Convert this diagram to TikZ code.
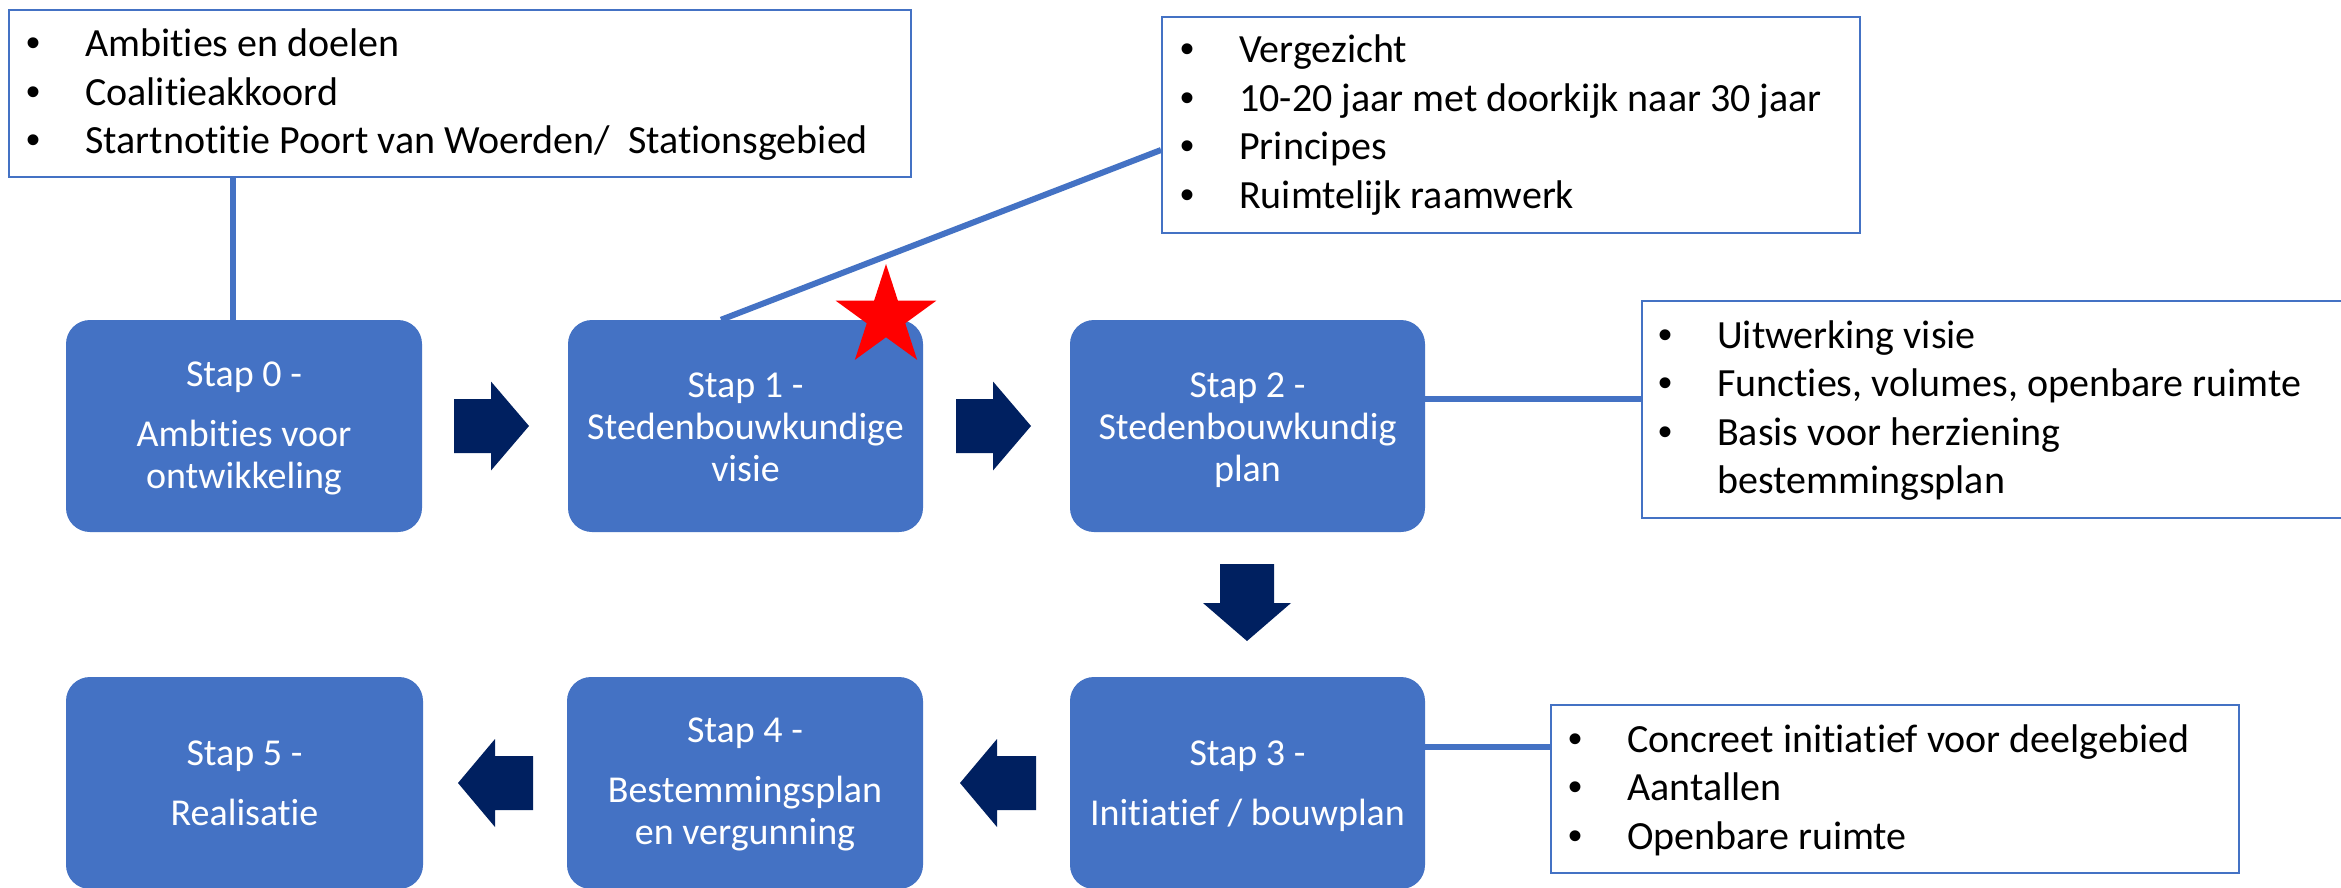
\documentclass[tikz,border=0pt]{standalone}
\usepackage{fontspec}
\setmainfont{Carlito}[Ligatures=NoCommon]
\newfontfamily\bulletfont{Liberation Sans}
\usetikzlibrary{shapes.geometric}
\definecolor{boxblue}{HTML}{4472C4}
\definecolor{navy}{HTML}{002060}
\newcommand\bl[1]{\makebox[62pt][l]{\hspace*{3pt}{\bulletfont •}}#1}
\tikzset{
  stepbox/.style={rectangle, rounded corners=24pt, fill=boxblue, draw=none, inner sep=0pt},
  infobox/.style={rectangle, draw=boxblue, line width=2pt, fill=white, inner sep=0pt},
  infotext/.style={anchor=base west, inner sep=0pt, text=black, font=\fontsize{40}{48.5}\selectfont},
  steptext/.style={anchor=base, inner sep=0pt, text=white, font=\fontsize{38}{42}\selectfont},
  conn/.style={draw=boxblue, line width=6pt},
  blockarrow/.style={fill=navy}
}
\begin{document}
\begin{tikzpicture}[x=1pt,y=-1pt]
\useasboundingbox (0,0) rectangle (2341,888);
\fill[white] (0,0) rectangle (2341,888);
\clip (0,0) rectangle (2341,888);

% coordinates for connector positions
\coordinate (cA) at (233,0);
\coordinate (c1) at (721,0);
\coordinate (c1b) at (0,150);
\coordinate (y2) at (0,399);
\coordinate (y3) at (0,747);

% info boxes
\node[infobox, minimum width=902pt, minimum height=167pt] (A) at (460,93.5) {};
\node[infobox, minimum width=698pt, minimum height=216pt] (B) at (1511,125) {};
\node[infobox, minimum width=708pt, minimum height=217pt] (C) at (1996,409.5) {};
\node[infobox, minimum width=688pt, minimum height=168pt] (D) at (1895,789) {};

% step boxes
\node[stepbox, minimum width=356pt, minimum height=212pt] (s0) at (244,426) {};
\node[stepbox, minimum width=355pt, minimum height=212pt] (s1) at (745.5,426) {};
\node[stepbox, minimum width=355pt, minimum height=212pt] (s2) at (1247.5,426) {};
\node[stepbox, minimum width=355pt, minimum height=212pt] (s3) at (1247.5,783) {};
\node[stepbox, minimum width=356pt, minimum height=212pt] (s4) at (745,783) {};
\node[stepbox, minimum width=357pt, minimum height=212pt] (s5) at (244.5,783) {};

% connectors
\draw[conn] (A.south -| cA) -- (s0.north -| cA);
\draw[conn] (s1.north -| c1) -- (B.west |- c1b);
\draw[conn] (s2.east |- y2) -- (C.west |- y2);
\draw[conn] (s3.east |- y3) -- (D.west |- y3);

% info texts
\node[infotext] (At) at (23,57) {\parbox[t]{880pt}{\bl{Ambities en doelen}\\\bl{Coalitieakkoord}\\\bl{Startnotitie Poort van Woerden/\ \ Stationsgebied}}};
\node[infotext] (Bt) at (1177,63) {\parbox[t]{680pt}{\bl{Vergezicht}\\\bl{10-20 jaar met doorkijk naar 30 jaar}\\\bl{Principes}\\\bl{Ruimtelijk raamwerk}}};
\node[infotext] (Ct) at (1655,348) {\parbox[t]{680pt}{\bl{Uitwerking visie}\\\bl{Functies, volumes, openbare ruimte}\\\bl{Basis voor herziening}\\\hspace*{62pt}bestemmingsplan}};
\node[infotext] (Dt) at (1565,752) {\parbox[t]{670pt}{\bl{Concreet initiatief voor deelgebied}\\\bl{Aantallen}\\\bl{Openbare ruimte}}};

% step texts
\node[steptext] (s0t) at (244,386) {\parbox[t]{340pt}{\centering Stap 0 -\\[18pt]Ambities voor\\ontwikkeling}};
\node[steptext] (s1t) at (745.5,397) {\parbox[t]{340pt}{\centering Stap 1 -\\Stedenbouwkundige\\visie}};
\node[steptext] (s2t) at (1247.5,397) {\parbox[t]{340pt}{\centering Stap 2 -\\Stedenbouwkundig\\plan}};
\node[steptext] (s3t) at (1247.5,765) {\parbox[t]{340pt}{\centering Stap 3 -\\[18pt]Initiatief / bouwplan}};
\node[steptext] (s4t) at (745,742) {\parbox[t]{340pt}{\centering Stap 4 -\\[18pt]Bestemmingsplan\\en vergunning}};
\node[steptext] (s5t) at (244.5,765) {\parbox[t]{340pt}{\centering Stap 5 -\\[18pt]Realisatie}};

% block arrows
\fill[blockarrow] (454,399) -- (491,399) -- (491,381.5) -- (529,426) -- (491,470.5) -- (491,453) -- (454,453) -- cycle;
\fill[blockarrow] (956,399) -- (993,399) -- (993,381.5) -- (1031,426) -- (993,470.5) -- (993,453) -- (956,453) -- cycle;
\fill[blockarrow] (1220,564) -- (1274,564) -- (1274,603) -- (1291,603) -- (1247,641) -- (1203,603) -- (1220,603) -- cycle;
\fill[blockarrow] (1036,756) -- (997,756) -- (997,739) -- (960,783) -- (997,827) -- (997,810) -- (1036,810) -- cycle;
\fill[blockarrow] (533,756) -- (495,756) -- (495,739) -- (458,783) -- (495,827) -- (495,810) -- (533,810) -- cycle;

% star
\node[star, star points=5, star point ratio=2.618, minimum size=106pt, inner sep=0pt, fill=red, draw=none] (st) at (886,317) {};
\end{tikzpicture}
\end{document}
